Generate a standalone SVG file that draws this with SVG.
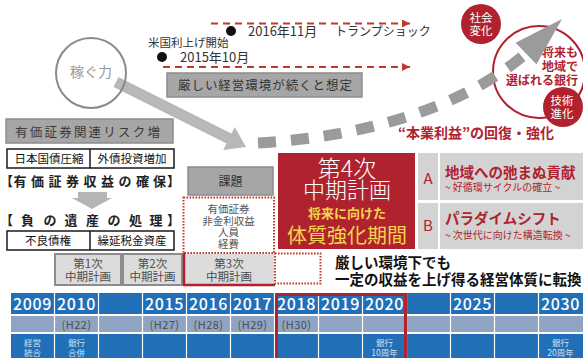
<svg xmlns="http://www.w3.org/2000/svg" width="583" height="358" viewBox="0 0 583 358">
<defs>
<style>
text { font-family: "Noto Sans CJK JP", "Noto Sans", sans-serif; }
.gbox { fill:#a6a6a6; stroke:#8c8c8c; stroke-width:1.5; }
.wbox { fill:#fff; stroke:#1a1a1a; stroke-width:1.5; }
.plan { fill:#dcdcdc; stroke:#8c8c8c; stroke-width:2; }
.dot { fill:none; stroke:#c0392b; stroke-width:2; stroke-dasharray:1.6 1.4; }
.rdash { fill:none; stroke:#c0392b; stroke-width:2; stroke-dasharray:7 5; }
.yr { fill:#fff; font-size:16px; text-anchor:middle; letter-spacing:0.6px; font-weight:500; }
.hr { fill:#4d4d4d; font-size:11px; text-anchor:middle; letter-spacing:0.5px; }
.ev { fill:#cfe0f2; font-size:8.5px; text-anchor:middle; }
.red { fill:#b0232e; }
.dk { fill:#333; }
.pl { fill:#4d4d4d; font-size:11.5px; text-anchor:middle; }
.wt { fill:#fff; font-size:11.5px; text-anchor:middle; }
.hd { font-size:13px; font-weight:bold; fill:#222; }
</style>
<marker id="ah" markerUnits="userSpaceOnUse" markerWidth="9" markerHeight="8" refX="8" refY="4" orient="auto">
<path d="M0,0 L8,4 L0,8 z" fill="#c0392b"/>
</marker>
</defs>
<rect width="583" height="358" fill="#fff"/>

<!-- connectors -->
<g id="connectors">
<path class="rdash" d="M211,23.5 H410" marker-end="url(#ah)"/>
<path class="rdash" d="M163,67 H410" marker-end="url(#ah)"/>
<polygon fill="#b8b8b8" points="118.5,77.1 231.5,133.6 234.8,126.9 246,147 223.2,150.1 226.5,143.4 113.5,86.9"/>
<polygon fill="#b5b5b5" points="78,192 107,192 107,198 112,198 92,209 72,198 78,198"/>
</g>

<!-- big red circle -->
<g id="goal">
<circle cx="539" cy="72" r="46" fill="none" stroke="#b0232e" stroke-width="2"/>
<text class="red" font-size="12" font-weight="bold" text-anchor="end" x="578" y="57">将来も</text>
<text class="red" font-size="12" font-weight="bold" text-anchor="end" x="578" y="71">地域で</text>
<text class="red" font-size="12" font-weight="bold" text-anchor="end" x="578" y="85">選ばれる銀行</text>
</g>

<!-- dashed grey arrow -->
<g id="growth-arrow">
<path d="M258,143 C360,137 460,110 526,53.5" fill="none" stroke="#9b9b9b" stroke-width="11" stroke-dasharray="18 15"/>
<polygon fill="#9b9b9b" points="562,19 536.4,64.3 515.6,42.7"/>
</g>

<g id="shakai">
<circle cx="481" cy="24" r="20" fill="#b0232e"/>
<text class="wt" x="481" y="22">社会</text>
<text class="wt" x="481" y="35">変化</text>
</g>
<g id="gijutsu">
<circle cx="563" cy="107" r="20" fill="#b0232e"/>
<text class="wt" x="562" y="104.5">技術</text>
<text class="wt" x="562" y="117.5">進化</text>
</g>

<g id="kasegu">
<circle cx="91" cy="73" r="35" fill="none" stroke="#8a8a8a" stroke-width="2"/>
<text x="91" y="77" font-size="14" fill="#9a9a9a" text-anchor="middle">稼ぐ力</text>
</g>

<g id="trump">
<circle cx="231" cy="31" r="5" fill="#111"/>
<text class="dk" x="248" y="36" font-size="13">2016年11月</text>
<text class="dk" x="335" y="36" font-size="12">トランプショック</text>
</g>
<g id="fed">
<text class="dk" x="148" y="47" font-size="11.5">米国利上げ開始</text>
<circle cx="162" cy="57" r="5" fill="#111"/>
<text class="dk" x="180" y="62" font-size="13">2015年10月</text>
</g>

<g id="env">
<rect class="gbox" x="167" y="73" width="195" height="24"/>
<text x="178" y="90" font-size="12.5" fill="#333" textLength="174" lengthAdjust="spacing">厳しい経営環境が続くと想定</text>
</g>

<g id="risk">
<rect class="gbox" x="6" y="119" width="167" height="24"/>
<text x="15" y="136.5" font-size="12.5" fill="#3a3a3a" textLength="145" lengthAdjust="spacing">有価証券関連リスク増</text>
</g>

<g id="securities">
<rect class="wbox" x="7" y="149" width="167" height="19"/>
<line x1="90" y1="149" x2="90" y2="168" stroke="#1a1a1a" stroke-width="1.5"/>
<text x="49" y="163" font-size="11.5" fill="#111" text-anchor="middle">日本国債圧縮</text>
<text x="132" y="163" font-size="11.5" fill="#111" text-anchor="middle">外債投資増加</text>
<text class="hd" x="0" y="185.5">【</text>
<text class="hd" x="20 37.5 55 72.5 90 107.5 125 142.5 159.5" y="185.5" text-anchor="middle">有価証券収益の確保</text>
<text class="hd" x="167" y="185.5">】</text>
</g>

<g id="legacy">
<text class="hd" x="0" y="224.5">【</text>
<text class="hd" x="27.5 50 71 92.5 114 135.5 156" y="224.5" text-anchor="middle">負の遺産の処理</text>
<text class="hd" x="167" y="224.5">】</text>
<rect class="wbox" x="7" y="231" width="167" height="19"/>
<line x1="90" y1="231" x2="90" y2="250" stroke="#1a1a1a" stroke-width="1.5"/>
<text x="48" y="245" font-size="11.5" fill="#111" text-anchor="middle">不良債権</text>
<text x="132" y="245" font-size="11.5" fill="#111" text-anchor="middle">繰延税金資産</text>
</g>

<g id="kadai">
<rect class="gbox" x="188" y="167" width="85" height="28"/>
<text x="230.5" y="185.5" font-size="12" fill="#333" text-anchor="middle">課題</text>
<rect class="dot" x="183.5" y="197.5" width="90.5" height="55.5"/>
<text x="228.5" y="213" font-size="10.5" fill="#555" text-anchor="middle">有価証券</text>
<text x="228.5" y="224.5" font-size="10.5" fill="#555" text-anchor="middle">非金利収益</text>
<text x="228.5" y="236" font-size="10.5" fill="#555" text-anchor="middle">人員</text>
<text x="228.5" y="247.5" font-size="10.5" fill="#555" text-anchor="middle">経費</text>
</g>

<g id="plan1">
<rect class="plan" x="55" y="254" width="66" height="31"/>
<text class="pl" x="88" y="267.5">第1次</text>
<text class="pl" x="88" y="280.5">中期計画</text>
</g>
<g id="plan2">
<rect class="plan" x="123" y="254" width="59" height="31"/>
<text class="pl" x="152.5" y="267.5">第2次</text>
<text class="pl" x="152.5" y="280.5">中期計画</text>
</g>
<g id="plan3">
<rect x="184" y="254" width="90" height="31" fill="#dcdcdc"/>
<path d="M184,253 V285 H275" fill="none" stroke="#b0232e" stroke-width="2.5"/>
<text class="pl" x="229" y="267.5">第3次</text>
<text class="pl" x="229" y="280.5">中期計画</text>
<rect class="dot" x="275" y="253.5" width="45.5" height="30"/>
</g>

<g id="plan4">
<rect x="278" y="153" width="137" height="96" fill="#b0232e"/>
<text x="347" y="176.5" font-size="23" fill="#fff" text-anchor="middle" font-weight="300">第4次</text>
<text x="347" y="198" font-size="22" fill="#fff" text-anchor="middle" font-weight="300">中期計画</text>
<text x="347" y="218" font-size="13" fill="#f2d64b" text-anchor="middle" font-weight="bold">将来に向けた</text>
<text x="347" y="243" font-size="20" fill="#f2d64b" text-anchor="middle">体質強化期間</text>
</g>

<text id="honngyo" class="red" x="398" y="138" font-size="14" font-weight="bold">“本業利益”の回復・強化</text>

<g id="themeA">
<rect x="418" y="153" width="20" height="47" fill="#d3d3d3"/>
<rect x="440" y="153" width="143" height="47" fill="#d3d3d3"/>
<text class="red" x="428" y="183.5" font-size="15" text-anchor="middle">A</text>
<text class="red" x="445" y="177.5" font-size="14.5" font-weight="bold">地域への弛まぬ貢献</text>
<text class="red" x="445" y="191" font-size="10">~ 好循環サイクルの確立 ~</text>
</g>
<g id="themeB">
<rect x="418" y="203" width="20" height="46" fill="#d3d3d3"/>
<rect x="440" y="203" width="143" height="46" fill="#d3d3d3"/>
<text class="red" x="428" y="230.5" font-size="15" text-anchor="middle">B</text>
<text class="red" x="445" y="223.5" font-size="14.5" font-weight="bold">パラダイムシフト</text>
<text class="red" x="445" y="239" font-size="10">~ 次世代に向けた構造転換 ~</text>
</g>

<g id="message">
<text x="335" y="268" font-size="14.5" font-weight="bold" fill="#111">厳しい環境下でも</text>
<text x="335" y="284.5" font-size="14.5" font-weight="bold" fill="#111">一定の収益を上げ得る経営体質に転換</text>
</g>

<g id="timeline">
<rect x="11" y="293" width="572" height="21" fill="#2170b7"/>
<rect x="11" y="316" width="572" height="16" fill="#8fa4c2"/>
<rect x="11" y="334" width="572" height="24" fill="#2170b7"/>
<g stroke="#fff" stroke-width="1.2">
<line x1="54.5" y1="293" x2="54.5" y2="358"/>
<line x1="98.5" y1="293" x2="98.5" y2="358"/>
<line x1="142.5" y1="293" x2="142.5" y2="358"/>
<line x1="186.5" y1="293" x2="186.5" y2="358"/>
<line x1="230.5" y1="293" x2="230.5" y2="358"/>
<line x1="274.5" y1="293" x2="274.5" y2="358"/>
<line x1="318.5" y1="293" x2="318.5" y2="358"/>
<line x1="362.5" y1="293" x2="362.5" y2="358"/>
<line x1="406.5" y1="293" x2="406.5" y2="358"/>
<line x1="450.5" y1="293" x2="450.5" y2="358"/>
<line x1="494.5" y1="293" x2="494.5" y2="358"/>
<line x1="538.5" y1="293" x2="538.5" y2="358"/>
</g>
<text class="yr" x="32.5" y="309.5">2009</text>
<text class="yr" x="76.5" y="309.5">2010</text>
<text class="yr" x="164.5" y="309.5">2015</text>
<text class="yr" x="208.5" y="309.5">2016</text>
<text class="yr" x="252.5" y="309.5">2017</text>
<text class="yr" x="296.5" y="309.5">2018</text>
<text class="yr" x="340.5" y="309.5">2019</text>
<text class="yr" x="384.5" y="309.5">2020</text>
<text class="yr" x="472.5" y="309.5">2025</text>
<text class="yr" x="560.5" y="309.5">2030</text>
<text class="hr" x="76.5" y="328.5">(H22)</text>
<text class="hr" x="164.5" y="328.5">(H27)</text>
<text class="hr" x="208.5" y="328.5">(H28)</text>
<text class="hr" x="252.5" y="328.5">(H29)</text>
<text class="hr" x="296.5" y="328.5">(H30)</text>
<text class="ev" x="32.5" y="345.5">経営</text>
<text class="ev" x="32.5" y="355.5">統合</text>
<text class="ev" x="76.5" y="345.5">銀行</text>
<text class="ev" x="76.5" y="355.5">合併</text>
<text class="ev" x="384.5" y="345.5">銀行</text>
<text class="ev" x="384.5" y="355.5">10周年</text>
<text class="ev" x="560.5" y="345.5">銀行</text>
<text class="ev" x="560.5" y="355.5">20周年</text>
<rect x="276.5" y="294.5" width="129" height="66" fill="none" stroke="#b0232e" stroke-width="3"/>
</g>
</svg>
